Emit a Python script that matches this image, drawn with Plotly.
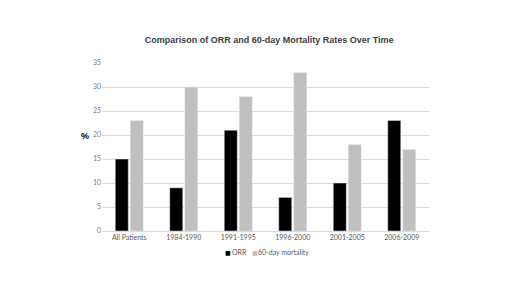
import plotly.graph_objects as go

categories = ["All Patients", "1984-1990", "1991-1995", "1996-2000", "2001-2005", "2006-2009"]
orr = [15, 9, 21, 7, 10, 23]
mortality = [23, 30, 28, 33, 18, 17]
y_ticks = [0, 5, 10, 15, 20, 25, 30, 35]
series_names = ["ORR", "60-day mortality"]

BLACK = "#000000"
GRAY = "#bfbfbf"

fig = go.Figure()
fig.add_trace(go.Bar(x=categories, y=orr, name=series_names[0], marker_color=BLACK, showlegend=False))
fig.add_trace(go.Bar(x=categories, y=mortality, name=series_names[1], marker_color=GRAY, showlegend=False))

fig.update_layout(
    width=512, height=284,
    margin=dict(l=94, r=91, t=55, b=61),
    paper_bgcolor="white", plot_bgcolor="white",
    barmode="group", bargap=0.45, bargroupgap=0.13,
    title=dict(text="<b>Comparison of ORR and 60-day Mortality Rates Over Time</b>",
               x=0.51, xanchor="center", y=0.887, yanchor="middle",
               font=dict(family="Liberation Sans", size=9, color="#404040")),
    font=dict(family="Lato", size=7, color="#595959"),
    showlegend=False,
    xaxis=dict(showline=True, linecolor="#d9d9d9", linewidth=1, ticks="",
               tickfont=dict(family="Lato", size=7, color="#595959")),
    yaxis=dict(range=[0, 35], tickvals=y_ticks, showgrid=True, gridcolor="#d9d9d9",
               gridwidth=1, zeroline=False, ticks="", ticklen=0,
               tickfont=dict(family="Lato", size=7, color="#808080")),
)
fig.add_annotation(text="<b>%</b>", xref="paper", yref="paper", x=-0.07, y=0.565,
                   showarrow=False, font=dict(family="Liberation Sans", size=9, color="#000000"))

# legend drawn as annotations (small square keys)
leg_y = -0.125
fig.add_annotation(text="■", xref="paper", yref="paper", x=0.370, y=leg_y, xanchor="left",
                   yanchor="middle", showarrow=False,
                   font=dict(family="DejaVu Sans", size=6, color=BLACK))
fig.add_annotation(text=series_names[0], xref="paper", yref="paper", x=0.390, y=leg_y,
                   xanchor="left", yanchor="middle", showarrow=False,
                   font=dict(family="Lato", size=7, color="#595959"))
fig.add_annotation(text="■", xref="paper", yref="paper", x=0.452, y=leg_y, xanchor="left",
                   yanchor="middle", showarrow=False,
                   font=dict(family="DejaVu Sans", size=6, color=GRAY))
fig.add_annotation(text=series_names[1], xref="paper", yref="paper", x=0.471, y=leg_y,
                   xanchor="left", yanchor="middle", showarrow=False,
                   font=dict(family="Lato", size=7, color="#595959"))

fig.write_html("out.html")
